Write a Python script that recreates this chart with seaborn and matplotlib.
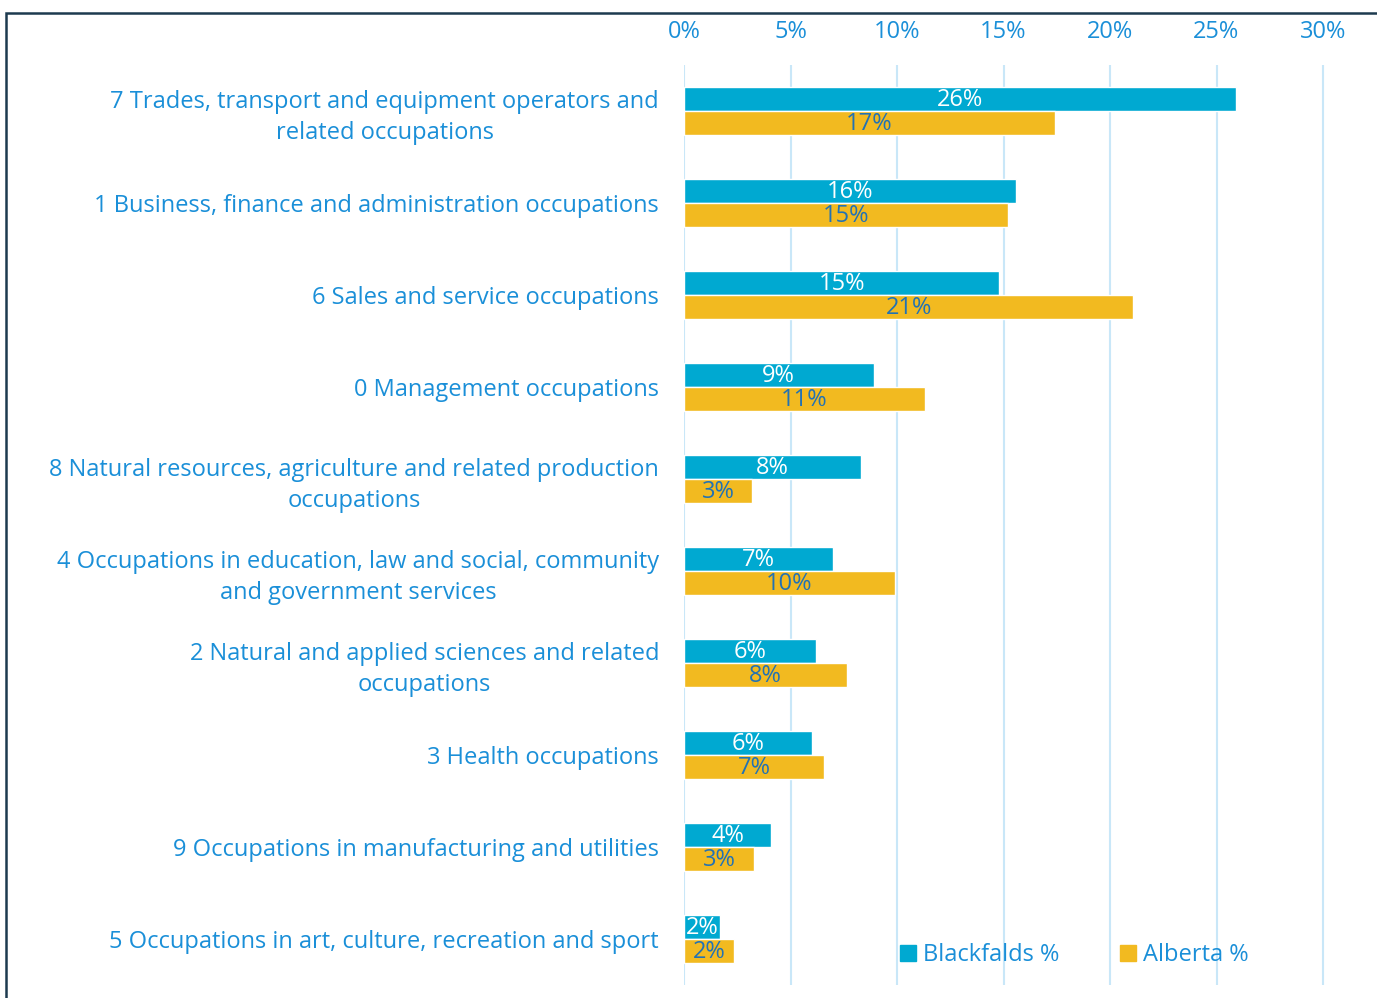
import matplotlib
matplotlib.use("Agg")
import matplotlib.pyplot as plt
import seaborn as sns
import pandas as pd
from matplotlib.patches import Rectangle

categories = [
    "7 Trades, transport and equipment operators and\nrelated occupations",
    "1 Business, finance and administration occupations",
    "6 Sales and service occupations",
    "0 Management occupations",
    "8 Natural resources, agriculture and related production\noccupations",
    "4 Occupations in education, law and social, community\nand government services",
    "2 Natural and applied sciences and related\noccupations",
    "3 Health occupations",
    "9 Occupations in manufacturing and utilities",
    "5 Occupations in art, culture, recreation and sport",
]
blackfalds = [25.9, 15.6, 14.8, 8.9, 8.3, 7.0, 6.2, 6.0, 4.1, 1.7]
alberta = [17.4, 15.2, 21.1, 11.3, 3.2, 9.9, 7.65, 6.57, 3.3, 2.35]
series = ["Blackfalds %", "Alberta %"]
xticks = [0, 5, 10, 15, 20, 25, 30]

TEXT = "#1a8fd8"
BLUE = "#00a9d1"
YELLOW = "#f2ba20"
GRID = "#c9e7f8"

df = pd.DataFrame({
    "category": categories * 2,
    "value": blackfalds + alberta,
    "series": [series[0]] * len(categories) + [series[1]] * len(categories),
})

sns.set_theme(style="white")
plt.rcParams["font.family"] = ["Open Sans", "DejaVu Sans"]

fig = plt.figure(figsize=(13.77, 9.98), dpi=100)
ax = fig.add_axes([684 / 1377, 1 - 985 / 998, (1335 - 684) / 1377, 920 / 998])

sns.barplot(data=df, y="category", x="value", hue="series", orient="h",
            palette=[BLUE, YELLOW], width=0.52, ax=ax, legend=False,
            saturation=1, order=categories, hue_order=series)

ax.set_xlim(0, 30 * (1335 - 684) / (1323 - 684))
ax.set_ylim(len(categories) - 0.5, -0.5)
ax.set_xticks(xticks)
ax.set_xticklabels([f"{t}%" for t in xticks])
ax.xaxis.tick_top()
ax.tick_params(axis="x", length=0, pad=15, labelsize=17, labelcolor=TEXT)
ax.tick_params(axis="y", length=0, pad=18, labelsize=17, labelcolor=TEXT)
for lbl in ax.get_yticklabels():
    lbl.set_multialignment("center")
    lbl.set_linespacing(1.4)
ax.set_xlabel("")
ax.set_ylabel("")
ax.grid(axis="x", color=GRID, linewidth=1.5)
ax.set_axisbelow(True)
for s in ax.spines.values():
    s.set_visible(False)

for cont, col in zip(ax.containers, ["white", "#2272b4"]):
    for bar in cont:
        w = bar.get_width()
        ax.text(w / 2, bar.get_y() + bar.get_height() / 2 + 0.01, f"{round(w):.0f}%",
                ha="center", va="center", color=col, fontsize=17)

handles = [Rectangle((0, 0), 1, 1, color=BLUE), Rectangle((0, 0), 1, 1, color=YELLOW)]
fig.legend(handles, series, loc="center left", bbox_to_anchor=(879 / 1377, 1 - 955 / 998),
           frameon=False, ncol=2, fontsize=17, labelcolor=TEXT, handlelength=0.65,
           handleheight=0.65, handletextpad=0.3, columnspacing=2.6)

fig.patches.append(Rectangle((5.5 / 1377, -0.05), 1.2, 1 - 12.5 / 998 + 0.05, fill=False,
                             edgecolor="#1d3a4f", linewidth=1.8, transform=fig.transFigure,
                             figure=fig))

fig.savefig("out.png", dpi=100)
